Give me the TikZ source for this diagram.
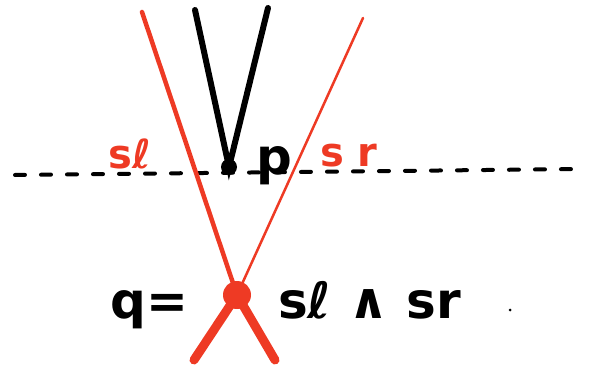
\documentclass[tikz,border=0pt]{standalone}
\usepackage{fontspec}
\setmainfont{DejaVu Sans}
\usetikzlibrary{positioning}
\definecolor{sketchred}{HTML}{EE3A24}

\begin{document}
\begin{tikzpicture}[x=1pt,y=-1pt,
  ray/.style={draw=sketchred,line cap=round,line join=round},
  wedge/.style={draw=black,line width=6pt,line cap=round},
  hand/.style={inner sep=0pt,anchor=base west},
  big/.style={font=\fontsize{50}{50}\selectfont\bfseries},
  mid/.style={font=\fontsize{40}{40}\selectfont\bfseries}
]
\useasboundingbox (0,0) rectangle (590,375);
% horizontal dashed line
\coordinate (hl) at (15,175);
\coordinate (hr) at (580,169);
\draw[line width=4pt,line cap=round,dash pattern=on 10pt off 16pt] (hl) -- (hr);
% points
\coordinate (p) at (229,167);
\coordinate (q) at (237,295);
% black wedge at p
\coordinate (wl) at (195,10);
\coordinate (wr) at (268,8);
\draw[wedge] (wl) -- (p) -- (wr);
\fill (p) circle (8);
% red lines through q
\coordinate (sltop) at (142,12);
\coordinate (slbot) at (275,360);
\coordinate (srtop) at (363,18);
\coordinate (srbot) at (194,360);
\draw[ray,line width=4.5pt] (sltop) -- (q);
\draw[ray,line width=2.5pt] (srtop) -- (q);
\draw[ray,line width=9pt] (q) -- (slbot);
\draw[ray,line width=9pt] (q) -- (srbot);
\fill[sketchred] (q) circle (14);
% labels
\node[hand,big] (plbl) at (256,174) {p};
\node[hand,mid,text=sketchred] (sllbl) at (108,168) {sℓ};
\node[hand,mid,text=sketchred] (srlbl) at (320,166) {s r};
\node[hand,big] (qeq) at (110,318) {q=};
\node[hand,big] (meet) at (278,318) {sℓ ∧ sr};
\fill (510,310) circle (1.5);
\end{tikzpicture}
\end{document}
